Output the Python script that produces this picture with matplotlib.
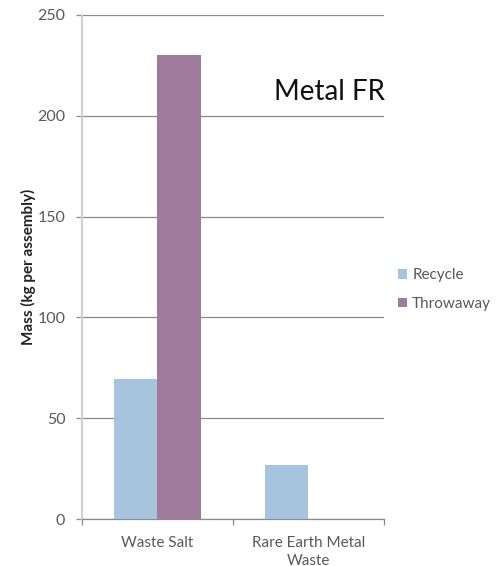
import numpy as np
import matplotlib
matplotlib.use("Agg")
import matplotlib.pyplot as plt

categories = ["Waste Salt", "Rare Earth Metal\nWaste"]
recycle = [69.5, 27]
throwaway = [230, 0]
yticks = [0, 50, 100, 150, 200, 250]

plt.rcParams['font.family'] = ['Lato', 'DejaVu Sans']

fig = plt.figure(figsize=(4.97, 5.66), dpi=100)
ax = fig.add_axes([0.165, 0.083, 0.6076, 0.8905])

x = np.arange(len(categories))
w = 0.285
c_rec = "#A7C4DF"
c_thr = "#9E7B9B"
ax.bar(x - w / 2, recycle, w, color=c_rec, label="Recycle", zorder=3)
ax.bar(x + w / 2, throwaway, w, color=c_thr, label="Throwaway", zorder=3)

grid_c = "#8a8a8a"
ax.set_xlim(-0.5, 1.5)
ax.set_ylim(0, 250)
ax.set_yticks(yticks)
ax.yaxis.grid(True, color=grid_c, linewidth=0.9, zorder=0)
ax.tick_params(axis="y", length=4, width=0.9, color=grid_c, pad=8,
               labelsize=11.5, labelcolor="#595959")
ax.set_xticks(x)
ax.set_xticklabels(categories, linespacing=1.35)
ax.set_xticks([-0.5, 0.5, 1.5], minor=True)
ax.tick_params(axis="x", which="major", length=0, pad=12, labelsize=11,
               labelcolor="#595959")
ax.tick_params(axis="x", which="minor", length=4, color=grid_c, width=0.9)

for s in ["top", "right"]:
    ax.spines[s].set_visible(False)
ax.spines["left"].set_color("#d0d0d0")
ax.spines["left"].set_linewidth(1.5)
ax.spines["bottom"].set_color(grid_c)
ax.spines["bottom"].set_linewidth(0.9)

ax.set_ylabel("Mass (kg per assembly)", fontsize=11, fontweight="bold",
              color="#222222", labelpad=1)

ax.text(1.003, 0.847, "Metal FR", transform=ax.transAxes, ha="right", va="center",
        fontsize=20, color="#111111")

ax.legend(loc="center left", bbox_to_anchor=(1.0, 0.455), frameon=False,
          fontsize=11, handlelength=0.6, handleheight=0.6, handletextpad=0.35,
          labelspacing=0.95, labelcolor="#595959")

fig.savefig("out.png", dpi=100)
